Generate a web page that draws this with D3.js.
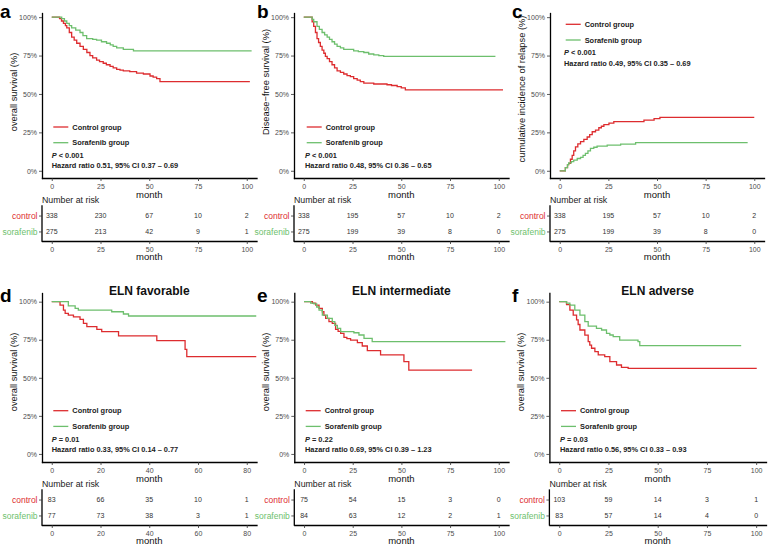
<!DOCTYPE html>
<html>
<head>
<meta charset="utf-8">
<script src="https://cdn.jsdelivr.net/npm/d3@7"></script>
<style>
  body { margin: 0; background: #fff; }
  svg { display: block; font-family: "Liberation Sans", Arial, sans-serif; }
</style>
</head>
<body>
<div id="chart"></div>
<script>
// ---- data ----
const groups = ['control', 'sorafenib'];
const groupLabels = ['Control group', 'Sorafenib group'];
const colors = ['#dd2c2f', '#6dbf6d'];

const timesTop = [0, 25, 50, 75, 100];
const timesFav = [0, 20, 40, 60, 80];
const percentTicks = [0, 0.25, 0.5, 0.75, 1];
const percentLabels = ['0%', '25%', '50%', '75%', '100%'];

// [month, value from that month on]
const osControl = [[0,1],[4,0.99],[5,0.975],[6,0.96],[7,0.945],[7.7,0.93],[9,0.9],[10.2,0.87],[11.5,0.85],[12.8,0.83],[14.5,0.81],[16.2,0.79],[18,0.77],[19.6,0.75],[21,0.735],[23,0.72],[24.5,0.71],[26.4,0.7],[28,0.69],[29.9,0.68],[31.5,0.67],[33.3,0.66],[35,0.655],[36.7,0.65],[40,0.645],[43.5,0.635],[47,0.63],[50.4,0.617],[52,0.61],[53.8,0.6],[55.5,0.58],[101.6,0.58]];
const osSorafenib = [[0,1],[5.1,0.99],[6.5,0.975],[7.7,0.96],[9,0.945],[10.2,0.93],[12.3,0.915],[14.5,0.9],[16,0.88],[17.9,0.86],[21,0.855],[23,0.85],[25.5,0.84],[28.1,0.83],[30,0.82],[31.5,0.81],[33.3,0.8],[36.7,0.79],[41.9,0.78],[102.5,0.78]];

const dfsControl = [[0,1],[4.3,0.97],[5.1,0.94],[6,0.9],[6.8,0.86],[7.6,0.835],[8.5,0.81],[9.4,0.785],[10.3,0.765],[11.1,0.745],[12,0.73],[13.2,0.71],[14.5,0.69],[15.8,0.67],[17.1,0.65],[18.8,0.64],[20.5,0.63],[22.2,0.62],[23.9,0.613],[25.6,0.6],[27.4,0.59],[29,0.58],[30.8,0.57],[35.9,0.565],[42.7,0.56],[45,0.555],[47.9,0.548],[50,0.54],[52.1,0.526],[102.2,0.526]];
const dfsSorafenib = [[0,1],[4.3,0.985],[5.1,0.97],[6.8,0.94],[8,0.92],[9.4,0.9],[10.7,0.885],[12,0.87],[13.2,0.855],[14.5,0.84],[15.8,0.825],[17.1,0.81],[18.8,0.8],[20.5,0.79],[25.6,0.78],[28,0.775],[30.8,0.77],[33.3,0.76],[35.9,0.755],[38.5,0.75],[41,0.745],[98.3,0.745]];

const cirControl = [[0,0],[2.9,0.02],[4,0.04],[4.6,0.048],[5.5,0.075],[6.4,0.1],[7.2,0.13],[8.1,0.156],[9.3,0.175],[10.7,0.19],[12.4,0.205],[14.1,0.22],[15.4,0.235],[16.7,0.254],[18.4,0.265],[20.1,0.28],[21.4,0.29],[22.7,0.3],[25.3,0.31],[27.8,0.32],[43.3,0.33],[48.5,0.34],[51.5,0.348],[100,0.348]];
const cirSorafenib = [[0,0],[2.9,0.02],[4,0.04],[4.6,0.052],[6,0.06],[7.2,0.07],[9,0.08],[10.7,0.087],[12,0.1],[13.2,0.113],[14.5,0.13],[15.8,0.146],[17.5,0.153],[19.2,0.16],[24.4,0.167],[31.3,0.174],[39,0.183],[96.6,0.183]];

const favControl = [[0,1],[3.4,0.978],[4.8,0.945],[5.5,0.923],[6.8,0.912],[8.9,0.9],[11.6,0.884],[13,0.858],[14.4,0.836],[18.5,0.818],[20.5,0.803],[27.4,0.775],[43.1,0.744],[54.7,0.687],[55.4,0.639],[83.9,0.639]];
const favSorafenib = [[0,1],[6.8,0.972],[9.6,0.956],[10.9,0.945],[24.6,0.934],[29.4,0.919],[31.5,0.906],[83.9,0.906]];

const intControl = [[0,1],[4.3,0.99],[6,0.978],[7.7,0.956],[9.4,0.934],[10.2,0.91],[11.1,0.89],[12.8,0.869],[14.5,0.858],[16.2,0.818],[17.5,0.805],[18.8,0.792],[20.5,0.766],[22,0.757],[23.9,0.748],[27.4,0.731],[29.9,0.709],[32.5,0.678],[39.3,0.65],[51.3,0.606],[53.8,0.551],[86.3,0.551]];
const intSorafenib = [[0,1],[3.4,0.99],[5.1,0.985],[6.5,0.965],[7.7,0.945],[9.4,0.912],[12,0.89],[14.5,0.869],[15.8,0.845],[17.1,0.825],[18.8,0.803],[25.6,0.796],[28.2,0.781],[30.8,0.759],[35,0.737],[103.4,0.737]];

const advControl = [[0,1],[3.7,0.98],[5.4,0.945],[7.1,0.912],[8.8,0.88],[9.6,0.85],[10.5,0.814],[13,0.78],[14.7,0.737],[15.5,0.715],[16.4,0.694],[18.1,0.672],[19.8,0.65],[23.1,0.639],[25.7,0.606],[29.1,0.584],[31.6,0.569],[35,0.562],[100.3,0.562]];
const advSorafenib = [[0,1],[3.7,0.99],[5.4,0.978],[7.9,0.945],[10.5,0.912],[13,0.869],[14.7,0.84],[18.9,0.825],[21.5,0.814],[24,0.792],[25.7,0.781],[27.4,0.77],[30.7,0.748],[40,0.737],[40.9,0.711],[92.4,0.711]];

// number at risk
const riskOs = [[338, 230, 67, 10, 2], [275, 213, 42, 9, 1]];
const riskDfs = [[338, 195, 57, 10, 2], [275, 199, 39, 8, 0]];
const riskCir = [[338, 195, 57, 10, 2], [275, 199, 39, 8, 0]];
const riskFav = [[83, 66, 35, 10, 1], [77, 73, 38, 3, 1]];
const riskInt = [[75, 54, 15, 3, 0], [84, 63, 12, 2, 1]];
const riskAdv = [[103, 59, 14, 3, 1], [83, 57, 14, 4, 0]];

const pValues = ['< 0.001', '< 0.001', '< 0.001', '= 0.01', '= 0.22', '= 0.03'];
const hazardRatios = ['0.51, 95% CI 0.37 \u2013 0.69', '0.48, 95% CI 0.36 \u2013 0.65', '0.49, 95% CI 0.35 \u2013 0.69',
  '0.33, 95% CI 0.14 \u2013 0.77', '0.69, 95% CI 0.39 \u2013 1.23', '0.56, 95% CI 0.33 \u2013 0.93'];

// ---- layout ----
const topRow = { yTop: 13, yBottom: 178, yDom: [-0.047, 1.027], t0: 206, t1: 241, letterY: 18 };
const botRow = { yTop: 293, yBottom: 462, yDom: [-0.053, 1.057], t0: 490, t1: 525, letterY: 302 };

const panels = [
  { letter: 'a', lx: 0, row: topRow, x0: 42, x1: 256.5, xMax: 100, times: timesTop, curves: [osControl, osSorafenib], risk: riskOs,
    ylab: 'overall survival (%)', ylabY: 92, legX: 53.3, legY: 127, statX: 51.7 },
  { letter: 'b', lx: 257, row: topRow, x0: 294, x1: 508.5, xMax: 100, times: timesTop, curves: [dfsControl, dfsSorafenib], risk: riskDfs,
    ylab: 'Disease\u2212free survival (%)', ylabY: 82, legX: 306.7, legY: 127, statX: 305 },
  { letter: 'c', lx: 512, row: topRow, x0: 550, x1: 764, xMax: 100, times: timesTop, curves: [cirControl, cirSorafenib], risk: riskCir,
    ylab: 'cumulative incidence of relapse (%)', ylabY: 89, legX: 565.7, legY: 24.3, statX: 564 },
  { letter: 'd', lx: 0, row: botRow, x0: 42, x1: 256.5, xMax: 80, times: timesFav, curves: [favControl, favSorafenib], risk: riskFav,
    ylab: 'overall survival (%)', ylabY: 372, legX: 53.3, legY: 410.7, statX: 51.7, title: 'ELN favorable' },
  { letter: 'e', lx: 257, row: botRow, x0: 294.3, x1: 508.5, xMax: 100, times: timesTop, curves: [intControl, intSorafenib], risk: riskInt,
    ylab: 'overall survival (%)', ylabY: 372, legX: 305.7, legY: 410.7, statX: 305, title: 'ELN intermediate' },
  { letter: 'f', lx: 512, row: botRow, x0: 549.4, x1: 766, xMax: 100, times: timesTop, curves: [advControl, advSorafenib], risk: riskAdv,
    ylab: 'overall survival (%)', ylabY: 372, legX: 561, legY: 410.7, statX: 560, title: 'ELN adverse' },
];

const svg = d3.select('#chart').append('svg').attr('width', 780).attr('height', 546);

function styleAxis(sel, fontSize) {
  sel.attr('font-family', null).attr('font-size', null);
  sel.select('.domain').attr('stroke', '#000').attr('stroke-width', 1.3).attr('stroke-linecap', 'square');
  sel.selectAll('.tick line').attr('stroke', '#333').attr('stroke-width', 0.8);
  sel.selectAll('.tick text').style('font-size', fontSize + 'px').attr('fill', '#4d4d4d');
}

panels.forEach((p, pi) => {
  const r = p.row;
  const g = svg.append('g');
  const x = d3.scaleLinear().domain([-0.05 * p.xMax, 1.05 * p.xMax]).range([p.x0, p.x1]);
  const y = d3.scaleLinear().domain(r.yDom).range([r.yBottom, r.yTop]);

  // survival plot axes
  g.append('g')
    .attr('transform', `translate(0,${r.yBottom})`)
    .call(d3.axisBottom(x).tickValues(p.times).tickSize(3).tickPadding(3).tickSizeOuter(0))
    .call(styleAxis, 7);
  g.append('g')
    .attr('transform', `translate(${p.x0},0)`)
    .call(d3.axisLeft(y).tickValues(percentTicks).tickFormat((d, i) => percentLabels[i]).tickSize(3).tickPadding(2).tickSizeOuter(0))
    .call(styleAxis, 7);

  g.append('text')
    .attr('x', (p.x0 + p.x1) / 2).attr('y', r.yBottom + 19.5)
    .attr('text-anchor', 'middle').style('font-size', '9.5px').attr('fill', '#111')
    .text('month');

  g.append('text')
    .attr('transform', `translate(${p.x0 - 25},${p.ylabY}) rotate(-90)`)
    .attr('text-anchor', 'middle').style('font-size', '9.3px').attr('fill', '#111')
    .text(p.ylab);

  // curves
  const line = d3.line().x(d => x(d[0])).y(d => y(d[1])).curve(d3.curveStepAfter);
  g.selectAll('path.curve')
    .data(p.curves)
    .join('path')
    .attr('class', 'curve')
    .attr('d', line)
    .attr('fill', 'none')
    .attr('stroke', (d, i) => colors[i])
    .attr('stroke-width', 1.3);

  // legend
  groupLabels.forEach((lab, i) => {
    const ly = p.legY + i * 15.7;
    g.append('line')
      .attr('x1', p.legX).attr('x2', p.legX + 15).attr('y1', ly).attr('y2', ly)
      .attr('stroke', colors[i]).attr('stroke-width', 1.3);
    g.append('text')
      .attr('x', p.legX + 19).attr('y', ly + 2.6)
      .style('font-size', '7.4px').style('font-weight', 'bold').attr('fill', '#222')
      .text(lab);
  });
  const pText = g.append('text')
    .attr('x', p.statX).attr('y', p.legY + 31)
    .style('font-size', '7.4px').style('font-weight', 'bold').attr('fill', '#222');
  pText.append('tspan').style('font-style', 'italic').text('P');
  pText.append('tspan').text(' ' + pValues[pi]);
  g.append('text')
    .attr('x', p.statX).attr('y', p.legY + 41.3)
    .style('font-size', '7.4px').style('font-weight', 'bold').attr('fill', '#222')
    .text('Hazard ratio ' + hazardRatios[pi]);

  if (p.title) {
    g.append('text')
      .attr('x', (p.x0 + p.x1) / 2).attr('y', 295)
      .attr('text-anchor', 'middle').style('font-size', '12px').style('font-weight', 'bold').attr('fill', '#111')
      .text(p.title);
  }

  g.append('text')
    .attr('x', p.lx).attr('y', r.letterY)
    .style('font-size', '19px').style('font-weight', 'bold').attr('fill', '#000')
    .text(p.letter);

  // risk table
  const ty = d3.scalePoint().domain(groups).range([r.t0, r.t1]).padding(0.6);
  g.append('text')
    .attr('x', p.x0).attr('y', r.t0 - 3.5)
    .style('font-size', '8.8px').attr('fill', '#222')
    .text('Number at risk');
  g.append('g')
    .attr('transform', `translate(0,${r.t1})`)
    .call(d3.axisBottom(x).tickValues(p.times).tickSize(3).tickPadding(3).tickSizeOuter(0))
    .call(styleAxis, 7);
  const tyAxis = g.append('g')
    .attr('transform', `translate(${p.x0},0)`)
    .call(d3.axisLeft(ty).tickSize(3).tickPadding(1.5).tickSizeOuter(0))
    .call(styleAxis, 8.5);
  tyAxis.select('.domain').attr('d', `M0,${r.t0}V${r.t1}`);
  tyAxis.selectAll('.tick text').attr('fill', (d, i) => colors[i]);
  g.append('text')
    .attr('x', (p.x0 + p.x1) / 2).attr('y', r.t1 + 19)
    .attr('text-anchor', 'middle').style('font-size', '9.5px').attr('fill', '#111')
    .text('month');

  groups.forEach((grp, gi) => {
    g.selectAll(null)
      .data(p.risk[gi])
      .join('text')
      .attr('x', (d, i) => x(p.times[i]))
      .attr('y', ty(grp))
      .attr('dy', '0.35em')
      .attr('text-anchor', 'middle')
      .style('font-size', '7px')
      .attr('fill', '#333')
      .text(d => d);
  });
});
</script>
</body>
</html>
